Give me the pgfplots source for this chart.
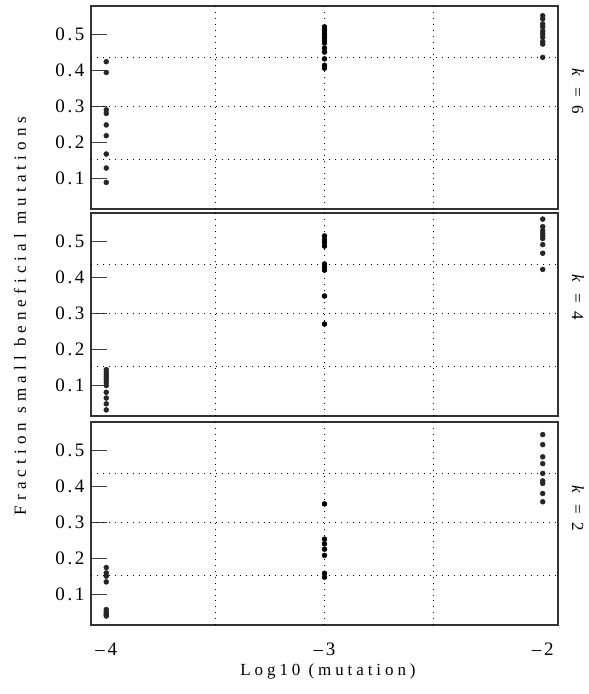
\documentclass[border=0pt]{standalone}
\usepackage{pgfplots}
\pgfplotsset{compat=1.18}
\usepackage{fontspec}
\setmainfont{Liberation Serif}
\pgfplotsset{panel/.style={
  width=467pt, height=203pt, scale only axis,
  xmin=-4.07, xmax=-1.93, ymin=0.015, ymax=0.58,
  axis line style={draw=black!80, line width=1.1pt},
  ytick={0.1,0.2,0.3,0.4,0.5}, yticklabels={0.1,0.2,0.3,0.4,0.5},
  ytick pos=left, tick align=inside, major tick length=16pt,
  tick style={draw=black!75, line width=0.8pt},
  xtick={-4,-3,-2}, xtick style={draw=none},
  extra x ticks={-3.5,-3,-2.5}, extra x tick labels={},
  extra y ticks={0.153,0.3,0.437}, extra y tick labels={},
  extra tick style={grid=major, major tick length=0pt},
  grid style={black, line width=0.75pt, dash pattern=on 0.75pt off 5.2pt},
  ticklabel style={font=\fontsize{19}{21}\selectfont\addfontfeature{LetterSpace=14}},
  yticklabel style={xshift=-3pt},
  xticklabel style={yshift=-14pt},
  cycle list={{black!85, mark=*, mark options={fill=black!85, draw=black!85}}},
  every axis plot/.append style={only marks, mark size=2.5pt},
}}
\begin{document}
\begin{tikzpicture}
\useasboundingbox (-91pt,0pt) rectangle (498pt,-694pt);
% k = 6
\begin{axis}[panel, at={(0pt,-6pt)}, anchor=north west, xticklabels={}]
\addplot coordinates {(-4,0.425)(-4,0.395)(-4,0.291)(-4,0.281)(-4,0.249)(-4,0.219)(-4,0.168)(-4,0.129)(-4,0.089)};
\addplot coordinates {(-3,0.522)(-3,0.515)(-3,0.508)(-3,0.500)(-3,0.492)(-3,0.485)(-3,0.477)(-3,0.463)(-3,0.452)(-3,0.433)(-3,0.415)(-3,0.407)};
\addplot coordinates {(-2,0.553)(-2,0.544)(-2,0.530)(-2,0.522)(-2,0.510)(-2,0.502)(-2,0.493)(-2,0.481)(-2,0.474)(-2,0.437)};
\end{axis}
% k = 4
\begin{axis}[panel, at={(0pt,-213pt)}, anchor=north west, xticklabels={}]
\addplot coordinates {(-4,0.144)(-4,0.137)(-4,0.130)(-4,0.123)(-4,0.117)(-4,0.109)(-4,0.100)(-4,0.081)(-4,0.065)(-4,0.049)(-4,0.032)};
\addplot coordinates {(-3,0.516)(-3,0.505)(-3,0.497)(-3,0.488)(-3,0.438)(-3,0.429)(-3,0.421)(-3,0.349)(-3,0.271)};
\addplot coordinates {(-2,0.563)(-2,0.542)(-2,0.531)(-2,0.523)(-2,0.517)(-2,0.509)(-2,0.492)(-2,0.468)(-2,0.423)};
\end{axis}
% k = 2
\begin{axis}[panel, at={(0pt,-422pt)}, anchor=north west, xticklabels={–4,–3,–2}]
\addplot coordinates {(-4,0.175)(-4,0.160)(-4,0.151)(-4,0.135)(-4,0.058)(-4,0.052)(-4,0.047)(-4,0.043)(-4,0.040)};
\addplot coordinates {(-3,0.352)(-3,0.254)(-3,0.241)(-3,0.226)(-3,0.209)(-3,0.159)(-3,0.148)};
\addplot coordinates {(-2,0.545)(-2,0.517)(-2,0.483)(-2,0.464)(-2,0.437)(-2,0.416)(-2,0.409)(-2,0.381)(-2,0.358)};
\end{axis}
\node[rotate=90, font=\fontsize{17}{19}\selectfont\addfontfeature{LetterSpace=30}] at (-71pt,-316pt) {Fraction small beneficial mutations};
\node[font=\fontsize{17}{19}\selectfont\addfontfeature{LetterSpace=23}] at (237pt,-671pt) {Log10 (mutation)};
\node[rotate=-90, inner sep=0pt, font=\fontsize{17}{19}\selectfont\addfontfeature{LetterSpace=22}] at (487pt,-91pt) {\textit{k} = 6};
\node[rotate=-90, inner sep=0pt, font=\fontsize{17}{19}\selectfont\addfontfeature{LetterSpace=22}] at (487pt,-297pt) {\textit{k} = 4};
\node[rotate=-90, inner sep=0pt, font=\fontsize{17}{19}\selectfont\addfontfeature{LetterSpace=22}] at (487pt,-508pt) {\textit{k} = 2};
\end{tikzpicture}
\end{document}
